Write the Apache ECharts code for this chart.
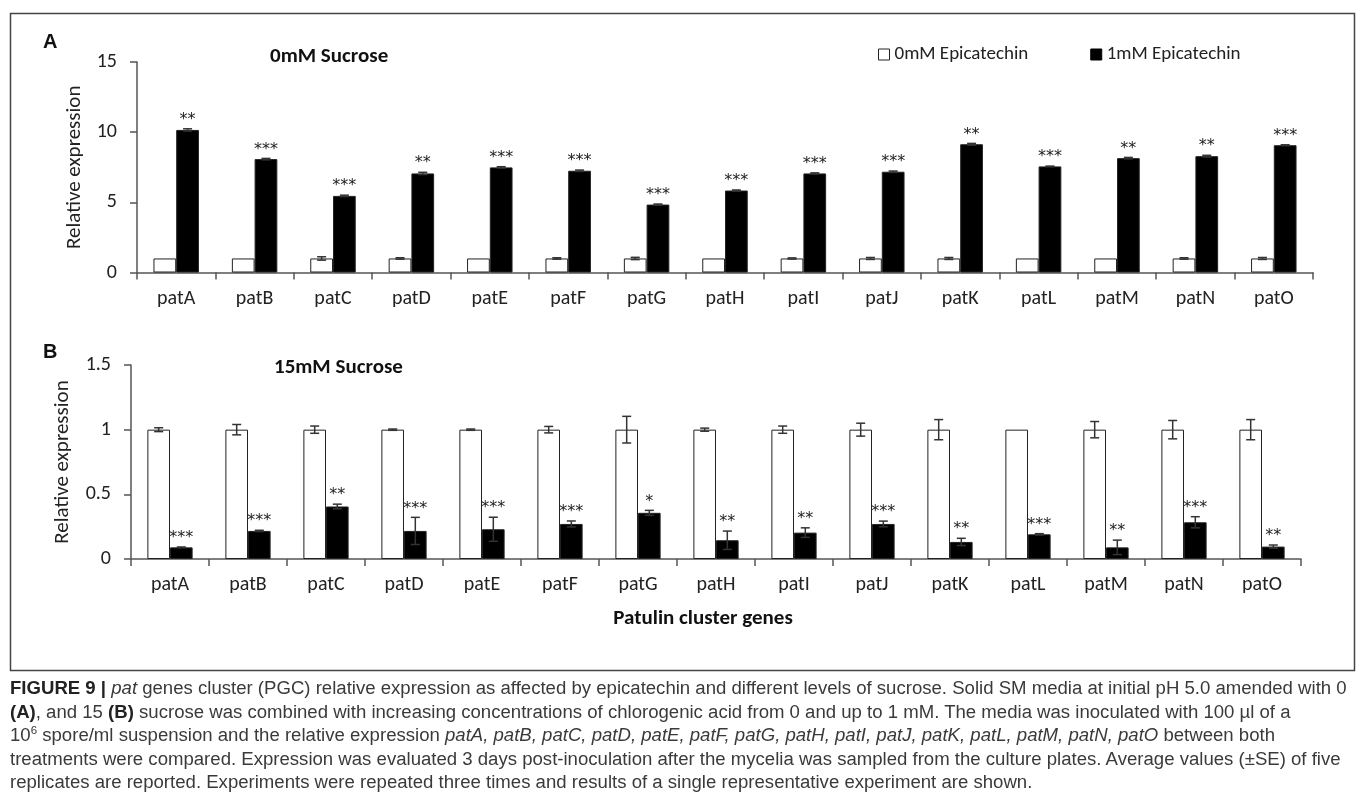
<!DOCTYPE html>
<html>
<head>
<meta charset="utf-8">
<script src="https://cdn.jsdelivr.net/npm/echarts@6/dist/echarts.min.js"></script>
<style>
  html, body { margin: 0; padding: 0; background: #fff; }
  #chart { position: absolute; left: 0; top: 0; width: 1358px; height: 796px; }
  #caption {
    position: absolute; left: 10px; top: 676px;
    font-family: "Liberation Sans", Arial, sans-serif;
    font-size: 16px; line-height: 23.5px; color: #3a3a3a;
  }
  #caption .ln { white-space: nowrap; display: block; }
  #caption .ln span.w { display: inline-block; }
  #caption b { color: #222; }
</style>
</head>
<body>
<div id="chart"></div>
<div id="caption">
  <div class="ln"><span class="w" id="firstLine"><b>FIGURE 9 |</b> <i>pat</i> genes cluster (PGC) relative expression as affected by epicatechin and different levels of sucrose. Solid SM media at initial pH 5.0 amended with 0</span></div>
  <div class="ln"><span class="w"><b>(A)</b>, and 15 <b>(B)</b> sucrose was combined with increasing concentrations of chlorogenic acid from 0 and up to 1 mM. The media was inoculated with 100 µl of a</span></div>
  <div class="ln"><span class="w">10<sup style="font-size:0.62em;line-height:0">6</sup> spore/ml suspension and the relative expression <i>patA, patB, patC, patD, patE, patF, patG, patH, patI, patJ, patK, patL, patM, patN, patO</i> between both</span></div>
  <div class="ln"><span class="w">treatments were compared. Expression was evaluated 3 days post-inoculation after the mycelia was sampled from the culture plates. Average values (±SE) of five</span></div>
  <div class="ln"><span class="w">replicates are reported. Experiments were repeated three times and results of a single representative experiment are shown.</span></div>
</div>
<script>
// Genes of the patulin cluster
const genes = ['patA', 'patB', 'patC', 'patD', 'patE', 'patF', 'patG', 'patH', 'patI', 'patJ', 'patK', 'patL', 'patM', 'patN', 'patO'];
const seriesNames = ['0mM Epicatechin', '1mM Epicatechin'];

// Panel A: 0mM sucrose
const ctrlA    = [1, 1, 1, 1, 1, 1, 1, 1, 1, 1, 1, 1, 1, 1, 1];
const ctrlAErr = [0, 0, 0.12, 0.05, 0, 0.05, 0.08, 0, 0.04, 0.07, 0.07, 0, 0, 0.05, 0.07];
const epiA     = [10.16, 8.08, 5.46, 7.06, 7.49, 7.25, 4.84, 5.84, 7.06, 7.18, 9.14, 7.56, 8.15, 8.29, 9.07];
const epiAErr  = [0.08, 0.05, 0.05, 0.08, 0.05, 0.05, 0.04, 0.04, 0.04, 0.05, 0.06, 0.02, 0.05, 0.06, 0.03];
const starsA   = ['**', '***', '***', '**', '***', '***', '***', '***', '***', '***', '**', '***', '**', '**', '***'];

// Panel B: 15mM sucrose
const ctrlB    = [1, 1, 1, 1, 1, 1, 1, 1, 1, 1, 1, 1, 1, 1, 1];
const ctrlBErr = [0.015, 0.04, 0.028, 0.005, 0.005, 0.025, 0.103, 0.012, 0.028, 0.05, 0.078, 0, 0.063, 0.071, 0.078];
const epiB     = [0.09, 0.217, 0.406, 0.217, 0.23, 0.271, 0.357, 0.145, 0.204, 0.271, 0.132, 0.191, 0.09, 0.284, 0.096];
const epiBErr  = [0.003, 0.005, 0.018, 0.105, 0.093, 0.023, 0.019, 0.071, 0.037, 0.022, 0.028, 0.005, 0.056, 0.043, 0.012];
const starsB   = ['***', '***', '**', '***', '***', '***', '*', '**', '**', '***', '**', '***', '**', '***', '**'];

// Value axis ranges
const axisA = { max: 15, interval: 5 };
const axisB = { max: 1.5, interval: 0.5 };

const FONT = 'Carlito, Lato, sans-serif';
const STAR_FONT = '16px "DejaVu Sans", sans-serif';
const BAR_FRAC = 0.29;      // each bar's share of a category band
const INK = '#222';
const AXIS = '#555';

// Fit the caption's first line to the frame width
(function fitCaption() {
  const cap = document.getElementById('caption');
  const w = document.getElementById('firstLine').getBoundingClientRect().width;
  if (w > 0) cap.style.fontSize = (16 * 1337 / w).toFixed(2) + 'px';
})();

function errorData(ctrl, ctrlErr, epi, epiErr) {
  const out = [];
  genes.forEach((g, i) => {
    out.push([i, ctrl[i], ctrlErr[i], 0]);
    out.push([i, epi[i], epiErr[i], 1]);
  });
  return out;
}

// Error bars (±SE) plus significance stars over the treated bar
function makeRenderItem(stars) {
  return function (params, api) {
    const i = api.value(0), m = api.value(1), se = api.value(2), grp = api.value(3);
    const band = api.size([1, 0])[0];
    const bw = band * BAR_FRAC;
    const c = api.coord([i, m]);
    const x = c[0] + (grp === 0 ? -bw / 2 : bw / 2);
    const yTop = api.coord([i, m + se])[1];
    const yBot = api.coord([i, m - se])[1];
    const cap = 4.5;
    const style = { stroke: '#333', lineWidth: 1.5 };
    const children = [];
    if (se > 0) {
      children.push({ type: 'line', shape: { x1: x, y1: yTop, x2: x, y2: yBot }, style });
      children.push({ type: 'line', shape: { x1: x - cap, y1: yTop, x2: x + cap, y2: yTop }, style });
      children.push({ type: 'line', shape: { x1: x - cap, y1: yBot, x2: x + cap, y2: yBot }, style });
    }
    if (grp === 1) {
      children.push({
        type: 'text',
        style: {
          text: stars[i], x: x, y: yTop - 1,
          align: 'center', verticalAlign: 'bottom',
          font: STAR_FONT, fill: INK
        }
      });
    }
    return { type: 'group', children };
  };
}

function xAxisCfg(gridIndex) {
  return {
    type: 'category', gridIndex, data: genes,
    axisLine: { lineStyle: { color: AXIS, width: 1.5 } },
    axisTick: { show: true, length: 7, lineStyle: { color: AXIS, width: 1.5 } },
    axisLabel: { color: INK, fontFamily: FONT, fontSize: 20, margin: 16 },
    splitLine: { show: false }
  };
}

function yAxisCfg(gridIndex, rng, gap) {
  return {
    type: 'value', gridIndex, min: 0, max: rng.max, interval: rng.interval,
    name: 'Relative expression', nameLocation: 'middle', nameGap: gap,
    nameTextStyle: { color: INK, fontFamily: FONT, fontSize: 21 },
    axisLine: { show: true, lineStyle: { color: AXIS, width: 1.5 } },
    axisTick: { show: true, length: 7, lineStyle: { color: AXIS, width: 1.5 } },
    axisLabel: { color: INK, fontFamily: FONT, fontSize: 20, margin: 20 },
    splitLine: { show: false }
  };
}

function barSeries(name, data, xi, color) {
  return {
    name, type: 'bar', xAxisIndex: xi, yAxisIndex: xi, data,
    barWidth: (BAR_FRAC * 100) + '%', barGap: '0%',
    itemStyle: { color, borderColor: '#222', borderWidth: 1 },
    emphasis: { disabled: true }, animation: false
  };
}

const boldTitle = (size) => ({ fontFamily: FONT, fontWeight: 'bold', fontSize: size, color: '#111' });
const panelLetter = { fontFamily: 'Liberation Sans, Arial, sans-serif', fontWeight: 'bold', fontSize: 20, color: '#111' };

const chart = echarts.init(document.getElementById('chart'), null, { renderer: 'canvas' });
chart.setOption({
  animation: false,
  backgroundColor: '#fff',
  grid: [
    { left: 137, right: 45, top: 62, height: 210.5 },
    { left: 131, right: 57, top: 365, height: 194 }
  ],
  xAxis: [xAxisCfg(0), xAxisCfg(1)],
  yAxis: [yAxisCfg(0, axisA, 52), yAxisCfg(1, axisB, 58)],
  legend: {
    data: [
      { name: seriesNames[0], itemStyle: { color: '#fff', borderColor: '#222', borderWidth: 1 } },
      { name: seriesNames[1], itemStyle: { color: '#000', borderColor: '#000', borderWidth: 1 } }
    ],
    left: 873, top: 40, icon: 'rect', itemWidth: 11, itemHeight: 11, itemGap: 62,
    selectedMode: false,
    textStyle: { color: INK, fontFamily: FONT, fontSize: 19 }
  },
  title: [
    { text: 'A', left: 38, top: 27, textStyle: panelLetter },
    { text: 'B', left: 38, top: 337, textStyle: panelLetter },
    { text: '0mM Sucrose', left: 265, top: 41, textStyle: boldTitle(21) },
    { text: '15mM Sucrose', left: 269, top: 352, textStyle: boldTitle(21) },
    { text: 'Patulin cluster genes', left: 698, textAlign: 'center', top: 603, textStyle: boldTitle(21) }
  ],
  graphic: [
    { type: 'rect', left: 8, top: 11, shape: { x: 0, y: 0, width: 1344, height: 657 },
      style: { fill: 'none', stroke: '#444', lineWidth: 1.5 }, silent: true }
  ],
  series: [
    barSeries(seriesNames[0], ctrlA, 0, '#fff'),
    barSeries(seriesNames[1], epiA, 0, '#000'),
    {
      type: 'custom', xAxisIndex: 0, yAxisIndex: 0, clip: false, silent: true,
      renderItem: makeRenderItem(starsA),
      data: errorData(ctrlA, ctrlAErr, epiA, epiAErr), z: 5
    },
    barSeries(seriesNames[0], ctrlB, 1, '#fff'),
    barSeries(seriesNames[1], epiB, 1, '#000'),
    {
      type: 'custom', xAxisIndex: 1, yAxisIndex: 1, clip: false, silent: true,
      renderItem: makeRenderItem(starsB),
      data: errorData(ctrlB, ctrlBErr, epiB, epiBErr), z: 5
    }
  ]
});
</script>
</body>
</html>
